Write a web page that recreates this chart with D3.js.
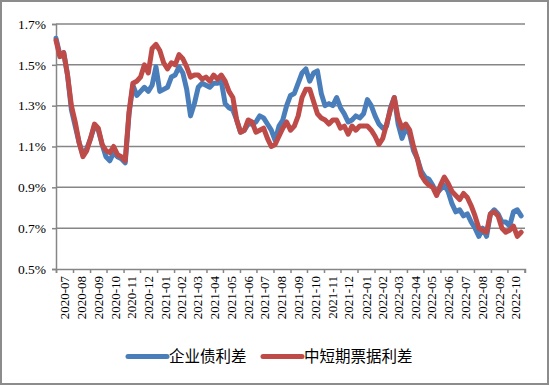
<!DOCTYPE html>
<html>
<head>
<meta charset="utf-8">
<script src="https://cdn.jsdelivr.net/npm/d3@7"></script>
<style>
  body { margin: 0; background: #fff; }
  svg { display: block; }
</style>
</head>
<body>
<svg id="chart" width="549" height="385"></svg>
<script>
"use strict";

// weekly samples starting 2020-07-01
const startDate = new Date(2020, 6, 1);
const stepDays = 7;

const seriesNames = ["企业债利差", "中短期票据利差"];
const seriesColors = ["#4a7ebb", "#be4b48"];

const corpBond = [
  1.63, 1.55, 1.56, 1.45, 1.28, 1.20, 1.12, 1.06, 1.09, 1.14,
  1.20, 1.18, 1.11, 1.05, 1.03, 1.07, 1.05, 1.04, 1.02, 1.26,
  1.40, 1.35, 1.37, 1.39, 1.37, 1.40, 1.49, 1.37, 1.38, 1.39,
  1.44, 1.45, 1.49, 1.46, 1.38, 1.25, 1.31, 1.39, 1.41, 1.40,
  1.39, 1.41, 1.41, 1.42, 1.31, 1.29, 1.28, 1.23, 1.17, 1.18,
  1.21, 1.21, 1.22, 1.25, 1.24, 1.21, 1.18, 1.13, 1.20, 1.23,
  1.30, 1.35, 1.36, 1.41, 1.46, 1.48, 1.42, 1.46, 1.47, 1.36,
  1.30, 1.31, 1.30, 1.34, 1.29, 1.26, 1.22, 1.23, 1.25, 1.24,
  1.26, 1.33, 1.30, 1.25, 1.21, 1.19, 1.20, 1.29, 1.34, 1.21,
  1.14, 1.19, 1.16, 1.08, 1.04, 0.98, 0.95, 0.94, 0.91, 0.87,
  0.89, 0.91, 0.88, 0.82, 0.78, 0.79, 0.76, 0.77, 0.73, 0.70,
  0.66, 0.70, 0.66, 0.77, 0.79, 0.77, 0.73, 0.73, 0.71, 0.78,
  0.79, 0.76
];

const mtnBill = [
  1.62, 1.54, 1.56, 1.45, 1.30, 1.22, 1.12, 1.05, 1.08, 1.14,
  1.21, 1.19, 1.11, 1.08, 1.07, 1.10, 1.06, 1.05, 1.03, 1.27,
  1.41, 1.42, 1.44, 1.50, 1.46, 1.58, 1.60, 1.57, 1.51, 1.48,
  1.51, 1.50, 1.55, 1.53, 1.49, 1.44, 1.45, 1.45, 1.43, 1.44,
  1.42, 1.45, 1.43, 1.45, 1.42, 1.37, 1.34, 1.23, 1.17, 1.18,
  1.23, 1.22, 1.17, 1.18, 1.19, 1.14, 1.10, 1.11, 1.15, 1.19,
  1.22, 1.18, 1.20, 1.25, 1.34, 1.38, 1.38, 1.32, 1.26, 1.24,
  1.23, 1.21, 1.23, 1.23, 1.19, 1.20, 1.16, 1.20, 1.18, 1.20,
  1.20, 1.20, 1.18, 1.15, 1.11, 1.14, 1.21, 1.28, 1.34, 1.24,
  1.19, 1.21, 1.18, 1.10, 1.04, 0.96, 0.93, 0.91, 0.90, 0.86,
  0.91, 0.95, 0.92, 0.88, 0.86, 0.84, 0.87, 0.85, 0.81, 0.76,
  0.70, 0.69, 0.68, 0.77, 0.78, 0.76, 0.70, 0.68, 0.69, 0.71,
  0.66, 0.68
];

const monthLabels = [
  "2020-07", "2020-08", "2020-09", "2020-10", "2020-11", "2020-12",
  "2021-01", "2021-02", "2021-03", "2021-04", "2021-05", "2021-06",
  "2021-07", "2021-08", "2021-09", "2021-10", "2021-11", "2021-12",
  "2022-01", "2022-02", "2022-03", "2022-04", "2022-05", "2022-06",
  "2022-07", "2022-08", "2022-09", "2022-10"
];
const yTicks = [0.5, 0.7, 0.9, 1.1, 1.3, 1.5, 1.7];

const margin = { top: 24, right: 24, bottom: 116, left: 56 };
const width = 549, height = 385;
const serif = "'Liberation Serif', 'Times New Roman', serif";

const svg = d3.select("#chart");

// outer frame
svg.append("rect")
  .attr("x", 1).attr("y", 1)
  .attr("width", width - 2).attr("height", height - 2)
  .attr("fill", "#fff")
  .attr("stroke", "#8c8c8c")
  .attr("stroke-width", 2);

const dates = corpBond.map((v, i) => d3.timeDay.offset(startDate, i * stepDays));

const x = d3.scaleTime()
  .domain([new Date(2020, 6, 1), new Date(2022, 10, 2)])
  .range([margin.left, width - margin.right]);

const y = d3.scaleLinear()
  .domain([0.5, 1.7])
  .range([height - margin.bottom, margin.top]);

// gridlines
svg.append("g")
  .selectAll("line")
  .data(yTicks.slice(1))
  .enter().append("line")
  .attr("x1", margin.left).attr("x2", width - margin.right)
  .attr("y1", d => y(d)).attr("y2", d => y(d))
  .attr("stroke", "#868686")
  .attr("stroke-width", 1.5);

// y axis
const yAxis = d3.axisLeft(y)
  .tickValues(yTicks)
  .tickSize(4)
  .tickFormat(d => d.toFixed(1) + "%");

const yG = svg.append("g")
  .attr("transform", `translate(${margin.left},0)`)
  .call(yAxis);
yG.select(".domain").attr("stroke", "#868686").attr("stroke-width", 1.5);
yG.selectAll(".tick line").attr("stroke", "#868686").attr("stroke-width", 1.5);
yG.selectAll(".tick text")
  .attr("x", -10)
  .attr("fill", "#000")
  .style("font-family", serif)
  .style("font-size", "13.5px");

// x axis: tick marks at month starts, labels in the middle of each month
const monthStarts = d3.timeMonth.range(new Date(2020, 6, 1), new Date(2022, 10, 2));
const xAxis = d3.axisBottom(x)
  .tickValues(monthStarts)
  .tickSize(4)
  .tickFormat("");

const xG = svg.append("g")
  .attr("transform", `translate(0,${height - margin.bottom})`)
  .call(xAxis);
xG.select(".domain").attr("stroke", "#868686").attr("stroke-width", 1.5);
xG.selectAll(".tick line").attr("stroke", "#868686").attr("stroke-width", 1.5);

svg.append("g")
  .selectAll("text")
  .data(monthLabels)
  .enter().append("text")
  .attr("transform", (d, i) => {
    let mid = new Date((+monthStarts[i] + +d3.timeMonth.offset(monthStarts[i], 1)) / 2);
    return `translate(${x(mid) + 4.5},${height - margin.bottom + 7}) rotate(-90)`;
  })
  .attr("text-anchor", "end")
  .attr("fill", "#000")
  .style("font-family", serif)
  .style("font-weight", "normal")
  .style("font-size", "13px")
  .text(d => d);

// lines
const line = d3.line()
  .x((d, i) => x(dates[i]))
  .y(d => y(d));

[corpBond, mtnBill].forEach((series, k) => {
  svg.append("path")
    .datum(series)
    .attr("fill", "none")
    .attr("stroke", seriesColors[k])
    .attr("stroke-width", 5)
    .attr("stroke-linejoin", "round")
    .attr("stroke-linecap", "round")
    .attr("d", line);
});

// legend
const legendItems = [{ x: 128 }, { x: 263 }];
const legend = svg.append("g");
legendItems.forEach((item, k) => {
  legend.append("line")
    .attr("x1", item.x).attr("x2", item.x + 39)
    .attr("y1", 356.5).attr("y2", 356.5)
    .attr("stroke", seriesColors[k])
    .attr("stroke-width", 5)
    .attr("stroke-linecap", "round");
  legend.append("text")
    .attr("x", item.x + 41)
    .attr("y", 362)
    .style("font-family", "'Noto Sans CJK SC', sans-serif")
    .style("font-size", "15.5px")
    .text(seriesNames[k]);
});
</script>
</body>
</html>
